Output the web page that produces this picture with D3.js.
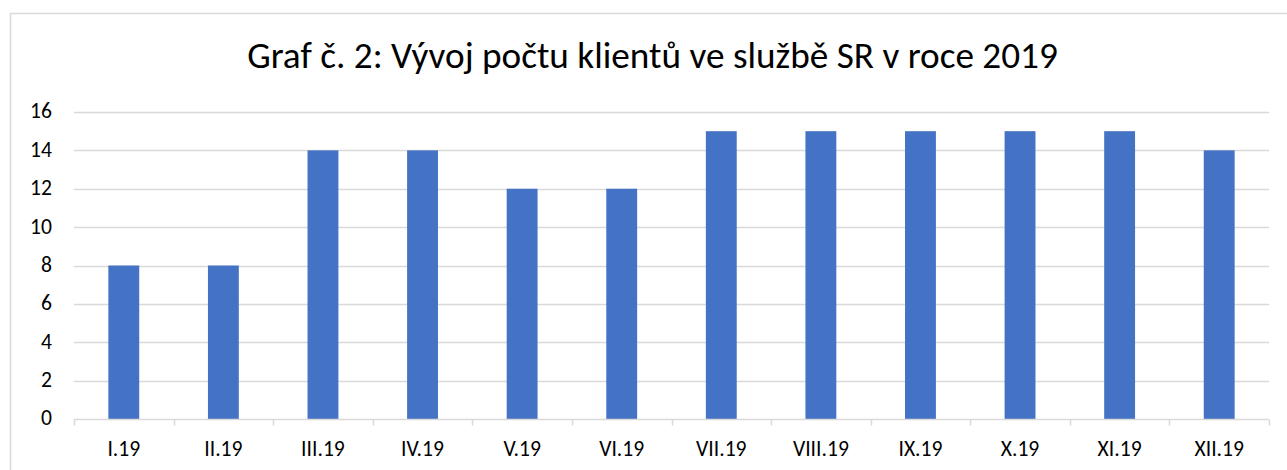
<!DOCTYPE html>
<html>
<head>
<meta charset="utf-8">
<script src="https://cdn.jsdelivr.net/npm/d3@7"></script>
<style>
  body { margin: 0; background: #fff; }
  svg { display: block; font-family: Carlito, "Open Sans", "Noto Sans", sans-serif; }
</style>
</head>
<body>
<svg id="chart" width="1287" height="470"></svg>
<script>
const months = ["I.19", "II.19", "III.19", "IV.19", "V.19", "VI.19",
  "VII.19", "VIII.19", "IX.19", "X.19", "XI.19", "XII.19"];
const clients = [8, 8, 14, 14, 12, 12, 15, 15, 15, 15, 15, 14];
const yTicks = [0, 2, 4, 6, 8, 10, 12, 14, 16];
const title = "Graf č. 2: Vývoj počtu klientů ve službě SR v roce 2019";

const width = 1287;
const height = 470;
const margin = { top: 112, right: 18, bottom: 51, left: 74 };

const svg = d3.select("#chart");

// pick a font size so that a sample string gets a target width
function fitSize(text, target) {
  const probe = svg.append("text").attr("font-size", 20).text(text);
  const w = probe.node().getComputedTextLength();
  probe.remove();
  return 20 * target / w;
}
const labelSize = fitSize("VIII.19", 56);

// chart frame, cut off by the right and bottom edges
svg.append("rect")
  .attr("x", 10.5).attr("y", 13.5)
  .attr("width", width).attr("height", height)
  .attr("fill", "none").attr("stroke", "#d9d9d9").attr("stroke-width", 1.5);

const x = d3.scaleBand()
  .domain(months)
  .range([margin.left, width - margin.right])
  .paddingInner(0.69)
  .paddingOuter(0.345);

const y = d3.scaleLinear()
  .domain([0, 16])
  .range([height - margin.bottom, margin.top]);

// gridlines
svg.append("g")
  .selectAll("line")
  .data(yTicks.filter((d) => d > 0))
  .join("line")
  .attr("x1", margin.left).attr("x2", width - margin.right)
  .attr("y1", (d) => Math.round(y(d)) + 0.5)
  .attr("y2", (d) => Math.round(y(d)) + 0.5)
  .attr("stroke", "#d9d9d9").attr("stroke-width", 1.5);

// y labels
svg.append("g")
  .selectAll("text")
  .data(yTicks)
  .join("text")
  .attr("x", margin.left - 22)
  .attr("y", (d) => y(d))
  .attr("dy", "0.3em")
  .attr("text-anchor", "end")
  .attr("font-size", labelSize)
  .attr("fill", "#000")
  .text((d) => d);

// bars
svg.append("g")
  .selectAll("rect")
  .data(months.map((m, i) => ({ m, v: clients[i] })))
  .join("rect")
  .attr("x", (d) => x(d.m))
  .attr("y", (d) => y(d.v))
  .attr("width", x.bandwidth())
  .attr("height", (d) => y(0) - y(d.v))
  .attr("fill", "#4472c4");

// x axis line and boundary ticks
const y0 = Math.round(y(0)) + 0.5;
const axis = svg.append("g").attr("stroke", "#d9d9d9").attr("stroke-width", 1.5);
axis.append("line")
  .attr("x1", margin.left).attr("x2", width - margin.right)
  .attr("y1", y0).attr("y2", y0);
axis.selectAll(".tick")
  .data(d3.range(months.length + 1))
  .join("line")
  .attr("class", "tick")
  .attr("x1", (i) => Math.round(x.range()[0] + i * x.step()) + 0.5)
  .attr("x2", (i) => Math.round(x.range()[0] + i * x.step()) + 0.5)
  .attr("y1", y0).attr("y2", y0 + 6);

// x labels
svg.append("g")
  .selectAll("text")
  .data(months)
  .join("text")
  .attr("x", (d) => x(d) + x.bandwidth() / 2)
  .attr("y", 456)
  .attr("text-anchor", "middle")
  .attr("font-size", labelSize)
  .attr("fill", "#000")
  .text((d) => d);

// title, sized to span the same width as the original
svg.append("text")
  .attr("x", 652.5)
  .attr("y", 68)
  .attr("text-anchor", "middle")
  .attr("font-size", fitSize(title, 811))
  .attr("fill", "#000")
  .text(title);
</script>
</body>
</html>
